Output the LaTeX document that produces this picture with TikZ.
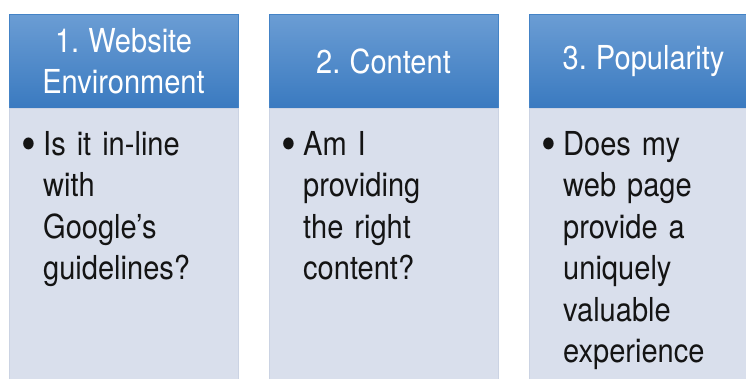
\documentclass[tikz,border=0pt]{standalone}
\usepackage{fontspec}
\setmainfont[FakeStretch=0.88,WordSpace=0.8]{TeX Gyre Heros}
\usepackage{tikz}
\definecolor{headtop}{HTML}{6B9DD4}
\definecolor{headbottom}{HTML}{3A7AC0}
\definecolor{headline}{HTML}{4483C6}
\definecolor{bodyfill}{HTML}{D9DFEC}
\definecolor{bodyline}{HTML}{CBD3E3}

\begin{document}
\begin{tikzpicture}[x=1pt,y=-1pt]
\def\colwidth{229}
\def\headheight{94}
\def\bodyheight{300}
\def\labelxshift{114.5}
\def\labelyshift{47}
\def\itemxshift{34}
\def\itemyshift{141}
\def\labelfontsize{\fontsize{33}{41.5}\selectfont}
\def\itembullet{\llap{\raisebox{-5pt}{\fontsize{48}{48}\selectfont\textbullet}\hspace{7pt}}}
\tikzset{
  headbox/.style={top color=headtop, bottom color=headbottom, draw=headline, line width=1pt},
  bodybox/.style={fill=bodyfill, draw=bodyline, line width=1pt},
  headtext/.style={text=white, align=center, inner sep=0pt, font=\labelfontsize},
  itemtext/.style={text=black!92, text width=190pt, align=left, inner sep=0pt,
    anchor=base west, font=\labelfontsize}
}

\clip (0,0) rectangle (746,378);

\begin{scope}[shift={(9, 14)}] % FIRST COLUMN
\shade[headbox] (0,0) rectangle +(\colwidth, \headheight);
\draw[bodybox] (0,\headheight) rectangle +(\colwidth, \bodyheight);

\node[headtext] (website) at (\labelxshift, \labelyshift) {1. Website\\Environment};
\node[itemtext] (guidelines) at (\itemxshift, \itemyshift)
  {\itembullet Is it in-line\\with\\Google’s\\guidelines?};
\end{scope}

\begin{scope}[shift={(269, 14)}] % SECOND COLUMN
\shade[headbox] (0,0) rectangle +(\colwidth, \headheight);
\draw[bodybox] (0,\headheight) rectangle +(\colwidth, \bodyheight);

\node[headtext] (content) at (\labelxshift, \labelyshift) {2. Content};
\node[itemtext] (rightcontent) at (\itemxshift, \itemyshift)
  {\itembullet Am I\\providing\\the right\\content?};
\end{scope}

\begin{scope}[shift={(529, 14)}] % THIRD COLUMN
\shade[headbox] (0,0) rectangle +(\colwidth, \headheight);
\draw[bodybox] (0,\headheight) rectangle +(\colwidth, \bodyheight);

\node[headtext] (popularity) at (\labelxshift, \labelyshift) {3. Popularity};
\node[itemtext] (experience) at (\itemxshift, \itemyshift)
  {\itembullet Does my\\web page\\provide a\\uniquely\\valuable\\experience};
\end{scope}

\end{tikzpicture}
\end{document}
